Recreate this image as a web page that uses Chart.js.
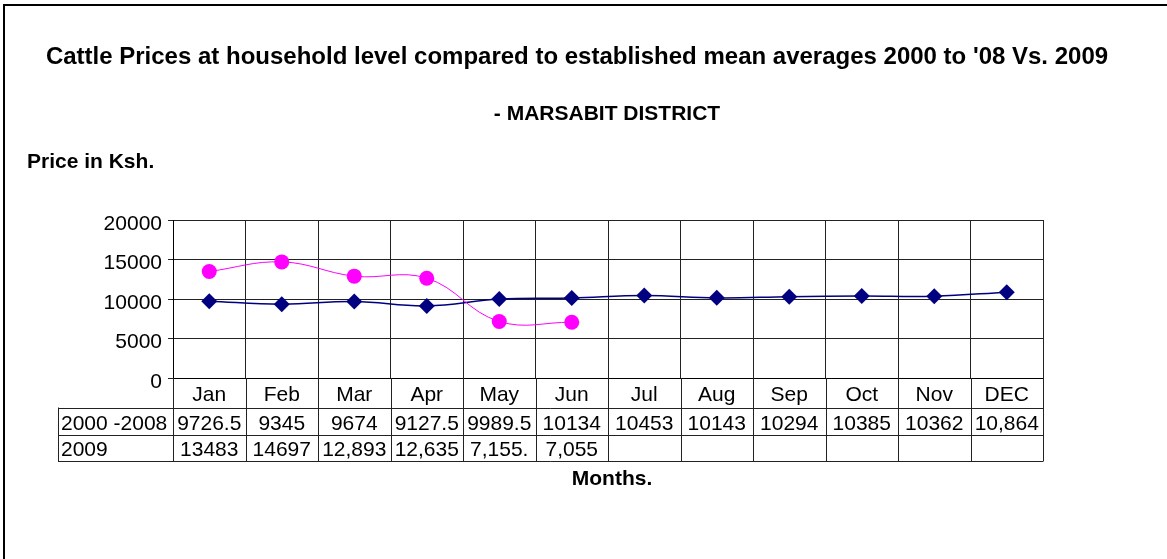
<!DOCTYPE html>
<html>
<head>
<meta charset="utf-8">
<script src="https://cdn.jsdelivr.net/npm/chart.js@4.4.0/dist/chart.umd.min.js"></script>
<style>
  body { margin: 0; background: #fff; }
  canvas { display: block; }
</style>
</head>
<body>
<canvas id="chart" width="1167" height="559"></canvas>
<script>
const months = ['Jan', 'Feb', 'Mar', 'Apr', 'May', 'Jun', 'Jul', 'Aug', 'Sep', 'Oct', 'Nov', 'DEC'];
const avgName = '2000 -2008';
const avgValues = [9726.5, 9345, 9674, 9127.5, 9989.5, 10134, 10453, 10143, 10294, 10385, 10362, 10864];
const avgText = ['9726.5', '9345', '9674', '9127.5', '9989.5', '10134', '10453', '10143', '10294', '10385', '10362', '10,864'];
const newName = '2009';
const newValues = [13483, 14697, 12893, 12635, 7155, 7055, null, null, null, null, null, null];
const newText = ['13483', '14697', '12,893', '12,635', '7,155.', '7,055', '', '', '', '', '', ''];
const yTicks = [0, 5000, 10000, 15000, 20000];

const titleText = "Cattle Prices at household level compared to established mean averages 2000 to '08 Vs. 2009";
const subText = '- MARSABIT DISTRICT';
const yTitle = 'Price in Ksh.';
const xTitle = 'Months.';

const FONT = '"Liberation Sans", Arial, sans-serif';

// titles, outer frame and the data table under the plot
const decor = {
  id: 'decor',
  beforeDraw(chart) {
    const ctx = chart.ctx;
    ctx.save();
    ctx.fillStyle = '#fff';
    ctx.fillRect(0, 0, chart.width, chart.height);
    ctx.restore();
  },
  afterDraw(chart) {
    const ctx = chart.ctx;
    const area = chart.chartArea;
    const x = chart.scales.x;
    const cw = (area.right - area.left) / months.length;
    const row0 = area.bottom + 29.5;
    const row1 = row0 + 27;
    const row2 = row1 + 26.5;
    const tableLeft = 58;

    ctx.save();
    // frame
    ctx.strokeStyle = '#000';
    ctx.lineWidth = 2;
    ctx.strokeRect(4, 5, 1300, 700);

    ctx.fillStyle = '#000';
    ctx.textBaseline = 'middle';
    ctx.font = 'bold 24px ' + FONT;
    ctx.textAlign = 'center';
    ctx.fillText(titleText, 577, 57);
    ctx.font = 'bold 21px ' + FONT;
    ctx.fillText(subText, 607, 114);
    ctx.fillText(xTitle, 612, 479);
    ctx.textAlign = 'left';
    ctx.fillText(yTitle, 27, 162);

    // table lines
    ctx.strokeStyle = '#222';
    ctx.lineWidth = 1;
    ctx.beginPath();
    for (let i = 0; i <= months.length; i++) {
      const gx = Math.round(area.left + i * cw) + 0.5;
      ctx.moveTo(gx, area.bottom);
      ctx.lineTo(gx, row2);
    }
    [row0, row1, row2].forEach(r => {
      const ry = Math.round(r) + 0.5;
      ctx.moveTo(tableLeft, ry);
      ctx.lineTo(area.right + 0.5, ry);
    });
    ctx.moveTo(tableLeft + 0.5, row0);
    ctx.lineTo(tableLeft + 0.5, row2);
    ctx.stroke();

    // table text
    ctx.font = '21px ' + FONT;
    ctx.textAlign = 'center';
    months.forEach((m, i) => {
      const cx = x.getPixelForValue(i);
      ctx.fillText(m, cx, area.bottom + 17);
      ctx.fillText(avgText[i], cx, row0 + 17);
      if (newText[i]) ctx.fillText(newText[i], cx, row1 + 16);
    });
    ctx.textAlign = 'left';
    ctx.fillText(avgName, tableLeft + 3, row0 + 17);
    ctx.fillText(newName, tableLeft + 3, row1 + 16);
    ctx.restore();
  }
};

new Chart(document.getElementById('chart'), {
  type: 'line',
  data: {
    labels: months,
    datasets: [
      {
        label: newName,
        data: newValues,
        borderColor: '#ff00ff',
        backgroundColor: '#ff00ff',
        borderWidth: 1,
        pointStyle: 'circle',
        pointRadius: 7.5,
        pointBorderWidth: 0,
        tension: 0.4,
        spanGaps: false
      },
      {
        label: avgName,
        data: avgValues,
        borderColor: '#000080',
        backgroundColor: '#000080',
        borderWidth: 1.5,
        pointStyle: 'rectRot',
        pointRadius: 8,
        pointBorderWidth: 0,
        tension: 0.4
      }
    ]
  },
  options: {
    responsive: false,
    animation: false,
    devicePixelRatio: 1,
    layout: { padding: { top: 220, bottom: 181, right: 124, left: 0 } },
    plugins: {
      legend: { display: false },
      title: { display: false },
      tooltip: { enabled: false }
    },
    scales: {
      x: {
        type: 'category',
        offset: true,
        grid: { offset: true, color: '#222', drawTicks: false },
        border: { display: true, color: '#000' },
        ticks: { display: false },
        afterFit: s => { s.height = 0; }
      },
      y: {
        min: 0,
        max: 20000,
        afterBuildTicks: s => { s.ticks = yTicks.map(v => ({ value: v })); },
        grid: { color: '#222', tickLength: 5 },
        border: { display: true, color: '#000' },
        ticks: {
          color: '#000',
          padding: 6,
          labelOffset: 4,
          font: { family: FONT, size: 21 },
          callback: v => String(v)
        },
        afterFit: s => { s.width = 173; }
      }
    }
  },
  plugins: [decor]
});
</script>
</body>
</html>
